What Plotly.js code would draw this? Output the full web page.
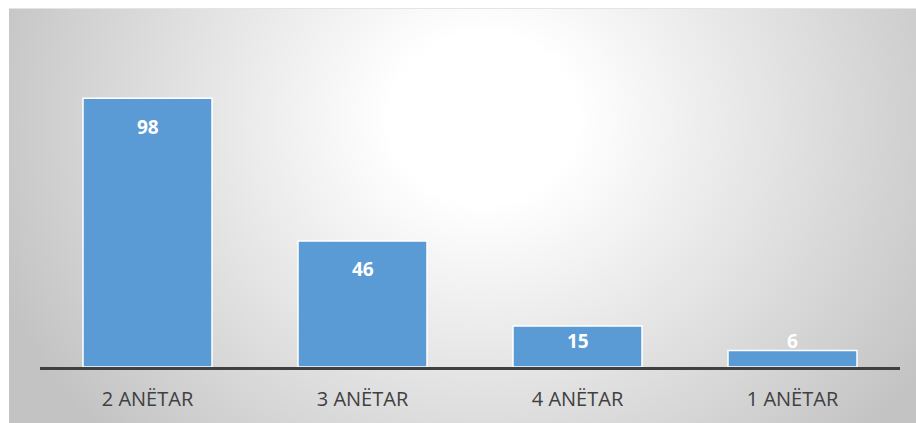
<!DOCTYPE html>
<html>
<head>
<meta charset="utf-8">
<script src="https://cdn.plot.ly/plotly-3.0.1.min.js"></script>
<style>
  html, body { margin: 0; padding: 0; background: #ffffff; }
  #wrap { position: relative; width: 916px; height: 423px; overflow: hidden; }
  #bg { position: absolute; left: 9px; top: 8px; width: 907px; height: 415px;
        background: radial-gradient(ellipse 520px 470px at 475px 110px, #ffffff 0%, #ffffff 18%, #c3c3c3 100%);
        border-top: 1px solid #e4e4e4; box-sizing: border-box; }
  #chart { position: absolute; left: 0; top: 0; width: 916px; height: 423px; }
</style>
</head>
<body>
<div id="wrap">
  <div id="bg"></div>
  <div id="chart"></div>
</div>
<script>
const categories = ["2 ANËTAR", "3 ANËTAR", "4 ANËTAR", "1 ANËTAR"];
const values = [98, 46, 15, 6];

const labelFont = {family: "Open Sans, Noto Sans, sans-serif", size: 19, color: "#ffffff", weight: 700};
const annotations = categories.map((c, i) => ({
  x: c,
  y: Math.max(values[i] - 10.3, 9.5),
  text: "<b>" + values[i] + "</b>",
  showarrow: false,
  xanchor: "center",
  yanchor: "middle",
  font: labelFont
}));

const trace = {
  type: "bar",
  x: categories,
  y: values,
  marker: {color: "#5B9BD5", line: {color: "#ffffff", width: 1.5}},
  hoverinfo: "none",
  textposition: "none"
};

const layout = {
  width: 916,
  height: 423,
  margin: {l: 40, r: 16, t: 38, b: 56},
  paper_bgcolor: "rgba(0,0,0,0)",
  plot_bgcolor: "rgba(0,0,0,0)",
  bargap: 0.4,
  showlegend: false,
  xaxis: {
    type: "category",
    showline: true,
    linecolor: "#404040",
    linewidth: 3,
    ticks: "",
    showgrid: false,
    zeroline: false,
    tickfont: {family: "Open Sans, Noto Sans, sans-serif", size: 20, color: "#404040"},
    ticklabelstandoff: 12
  },
  yaxis: {
    range: [0, 120],
    visible: false,
    showgrid: false,
    zeroline: false
  },
  annotations: annotations
};

Plotly.newPlot("chart", [trace], layout, {displayModeBar: false, staticPlot: true});
</script>
</body>
</html>
